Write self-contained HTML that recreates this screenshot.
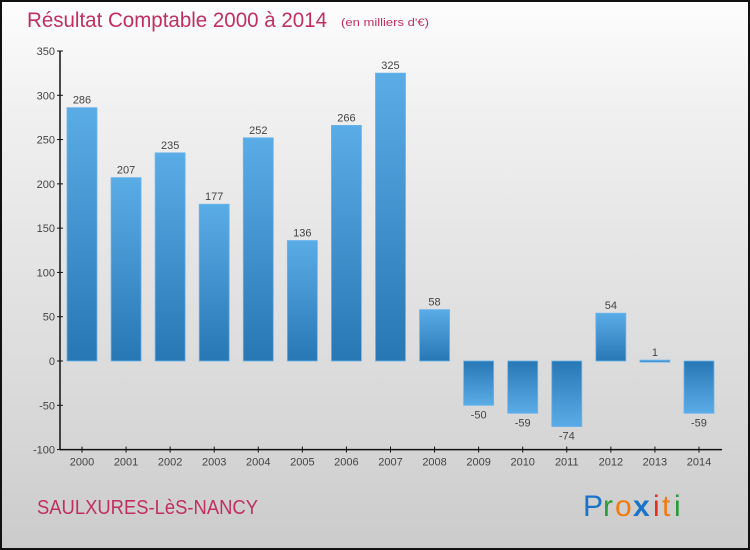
<!DOCTYPE html>
<html><head><meta charset="utf-8"><style>
html,body{margin:0;padding:0}
body{width:750px;height:550px;overflow:hidden;font-family:"Liberation Sans",sans-serif}
#frame{position:absolute;left:0;top:0;width:746px;height:546px;border:2px solid #111;background:linear-gradient(#fdfdfd,#f0f0f0 20%,#d6d6d6 80%,#cbcbcb)}
</style></head><body>
<div id="frame"></div>
<svg id="chart" width="750" height="550" style="position:absolute;left:0;top:0">
<defs>
<linearGradient id="gpos" x1="0" y1="0" x2="0" y2="1"><stop offset="0" stop-color="#5aace6"/><stop offset="1" stop-color="#2877b5"/></linearGradient>
<linearGradient id="gneg" x1="0" y1="0" x2="0" y2="1"><stop offset="0" stop-color="#2877b5"/><stop offset="1" stop-color="#5aace6"/></linearGradient>
</defs>
<text x="27" y="27" font-size="21" fill="#c0305f" textLength="300" lengthAdjust="spacingAndGlyphs">Résultat Comptable 2000 à 2014</text>
<text x="341" y="26" font-size="11" fill="#c0305f" textLength="88" lengthAdjust="spacingAndGlyphs">(en milliers d'€)</text>
<text x="37" y="514" font-size="20" fill="#c0305f" textLength="221" lengthAdjust="spacingAndGlyphs">SAULXURES-LèS-NANCY</text>
<g font-size="30" font-family="'Liberation Sans',sans-serif">
<text x="583" y="516" fill="#1a73c9">P</text><text x="603" y="516" fill="#2a9a3a">r</text><text x="615" y="516" fill="#f07a10">o</text><text x="633" y="516" fill="#1a73c9" font-weight="bold">x</text><text x="653" y="516" fill="#e0301f">i</text><text x="662" y="516" fill="#f07a10">t</text><text x="674" y="516" fill="#2a9a3a">i</text>
</g>
<g id="axes"></g><g id="bars"></g>
</svg>
<script>
const years=["2000","2001","2002","2003","2004","2005","2006","2007","2008","2009","2010","2011","2012","2013","2014"];
const values=[286,207,235,177,252,136,266,325,58,-50,-59,-74,54,1,-59];
const yTicks=[350,300,250,200,150,100,50,0,-50,-100];
const NS="http://www.w3.org/2000/svg";
const y=v=>361-v*(310/350);
const x=i=>82+i*44.07;
function mk(tag,attrs,parent,txt){const e=document.createElementNS(NS,tag);for(const k in attrs)e.setAttribute(k,attrs[k]);if(txt!==undefined)e.textContent=txt;parent.appendChild(e);return e;}
const ax=document.getElementById('axes'),bg=document.getElementById('bars');
let l=mk('line',{x1:60,y1:y(350),x2:60,y2:y(-100),stroke:'#111','stroke-width':1.5},ax);


l=mk('line',{x1:60,y1:y(-100),x2:722,y2:y(-100),stroke:'#111','stroke-width':1.5},ax);


yTicks.forEach(t=>{
 mk('line',{x1:57,y1:y(t),x2:63,y2:y(t),stroke:'#111'},ax);
 const tx=mk('text',{x:55,y:y(t)+4,'text-anchor':'end','font-size':11,fill:'#444'},ax,t);
 
 
});
years.forEach((yr,i)=>{
 mk('line',{x1:x(i),y1:y(-100)-3,x2:x(i),y2:y(-100)+3,stroke:'#111'},ax);
 const tx=mk('text',{x:x(i),y:y(-100)+16,'text-anchor':'middle','font-size':11,fill:'#444'},ax,yr);
 
 
 const v=values[i];
 const top=Math.min(y(v),y(0)),h=Math.max(Math.abs(y(v)-y(0)),2);
 const r=mk('rect',{x:x(i)-15,y:top,width:30,height:h,fill:v>=0?'url(#gpos)':'url(#gneg)',stroke:'#6ab4ec','stroke-width':0.8},bg);
 
 
 const ly=v>=0?y(v)-4:y(v)+13;
 const lb=mk('text',{x:x(i),y:ly,'text-anchor':'middle','font-size':11,fill:'#444'},bg,v);
 
 
});
</script>
</body></html>
